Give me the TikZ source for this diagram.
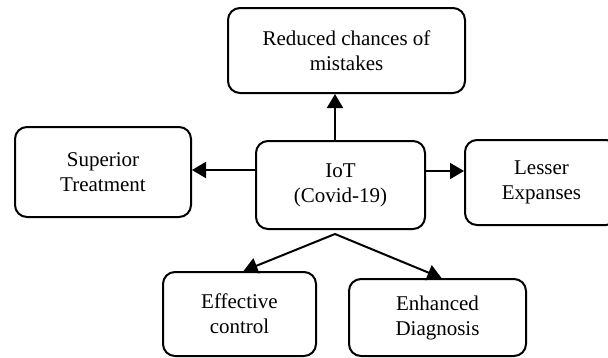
\documentclass[tikz,border=0pt]{standalone}
\usepackage{fontspec}
\setmainfont{Liberation Serif}
\usepackage{tikz}
\usetikzlibrary{arrows.meta}

\begin{document}
\begin{tikzpicture}[
        x=1pt, y=-1pt,
        box/.style={rectangle, draw=black, line width=2pt, rounded corners=12pt,
            align=center, inner sep=0pt, font=\fontsize{21}{25}\selectfont},
        link/.style={line width=2pt, -{Triangle[length=14pt,width=16pt]}}
    ]
    \useasboundingbox (0,0) rectangle (608,357);

    % Centre
    \node[box, minimum width=169pt, minimum height=88pt] at (340.5,185) (iot) {IoT\\(Covid-19)};

    % Top
    \node[box, minimum width=237pt, minimum height=85pt] at (346.5,50.5) (mistakes) {Reduced chances of\\mistakes};

    % Left and right
    \node[box, minimum width=176pt, minimum height=90pt] at (103,172) (treatment) {Superior\\Treatment};
    \node[box, minimum width=153pt, minimum height=85pt] at (541.5,182.5) (expanses) {Lesser\\Expanses};

    % Bottom
    \node[box, minimum width=153pt, minimum height=84pt] at (239.5,314) (control) {Effective\\control};
    \node[box, minimum width=177pt, minimum height=77pt] at (437.5,317.5) (diagnosis) {Enhanced\\Diagnosis};

    % Arrows
    \draw[link] ([xshift=-5.5pt]iot.north) -- ([xshift=-5.5pt]iot.north |- mistakes.south);
    \draw[link] ([yshift=15pt]iot.west) -- ([yshift=15pt]iot.west -| treatment.east);
    \draw[link] ([yshift=14pt]iot.east) -- ([yshift=14pt]iot.east -| expanses.west);
    \draw[link] ([xshift=-5.5pt,yshift=-4pt]iot.south) -- ([xshift=4pt]control.north);
    \draw[link] ([xshift=-5.5pt,yshift=-4pt]iot.south) -- ([xshift=4pt]diagnosis.north);

\end{tikzpicture}
\end{document}
